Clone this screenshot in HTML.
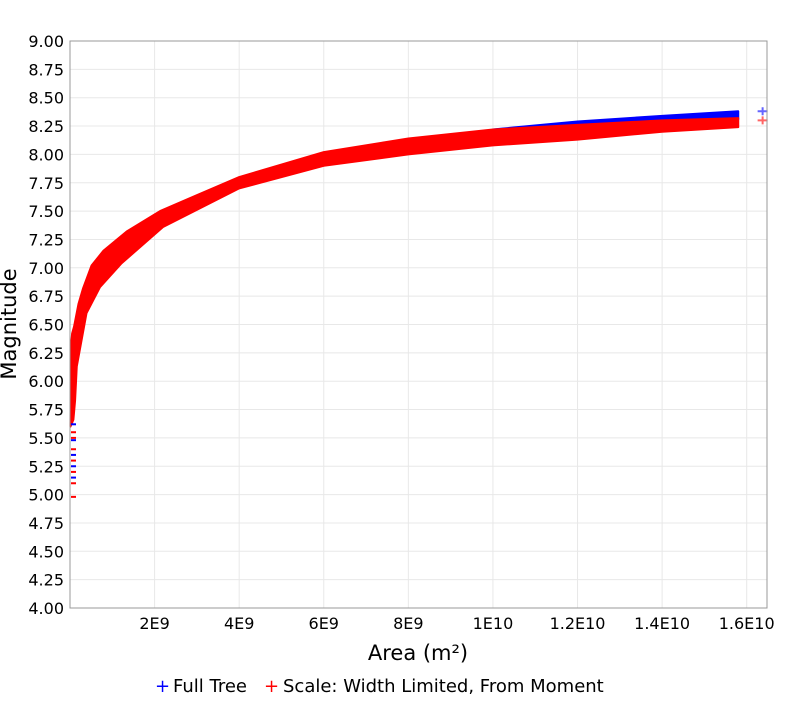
<!DOCTYPE html>
<html><head><meta charset="utf-8"><style>
body{margin:0;background:#fff;font-family:"Liberation Sans","DejaVu Sans",sans-serif;}
svg text{font-family:"DejaVu Sans","Liberation Sans",sans-serif;}
</style></head><body>
<svg id="chart" width="800" height="700">
<g id="grid"></g>
<g id="series"></g>
<rect x="70" y="41" width="697" height="567" fill="none" stroke="#999"/>
<g id="axes"></g>
<text x="418" y="660" font-size="21" text-anchor="middle">Area (m²)</text>
<text transform="translate(16,324) rotate(-90)" font-size="21" text-anchor="middle">Magnitude</text>
<g>
<text x="155" y="692" font-size="18" fill="#00f">+</text>
<text x="173" y="692" font-size="18">Full Tree</text>
<text x="264" y="692" font-size="18" fill="#f00">+</text>
<text x="283" y="692" font-size="18">Scale: Width Limited, From Moment</text>
</g>
</svg>
<script>
const xTicks=[2e9,4e9,6e9,8e9,1e10,1.2e10,1.4e10,1.6e10];
const xTickLabels=["2E9","4E9","6E9","8E9","1E10","1.2E10","1.4E10","1.6E10"];
const yTicks=[4,4.25,4.5,4.75,5,5.25,5.5,5.75,6,6.25,6.5,6.75,7,7.25,7.5,7.75,8,8.25,8.5,8.75,9];
const redUpArea=[0.02e9,0.05e9,0.095e9,0.2e9,0.31e9,0.51e9,0.79e9,1.34e9,2.13e9,3e9,4e9,6e9,8e9,1e10,1.2e10,1.4e10,1.58e10];
const redUpper=[6.3,6.42,6.48,6.68,6.82,7.02,7.15,7.32,7.5,7.64,7.8,8.02,8.14,8.22,8.26,8.3,8.32];
const redLoArea=[0.01e9,0.08e9,0.12e9,0.16e9,0.39e9,0.71e9,1.22e9,2.2e9,4e9,6e9,8e9,1e10,1.2e10,1.4e10,1.58e10];
const redLower=[5.6,5.66,5.83,6.13,6.6,6.83,7.04,7.36,7.7,7.9,8.0,8.08,8.13,8.2,8.24];
const blueArea=[1e10,1.2e10,1.4e10,1.58e10];
const blueUpper=[8.22,8.29,8.34,8.38];
const blueLower=[8.18,8.24,8.28,8.31];
const outArea=[1.64e10,1.64e10];
const outMag=[8.38,8.30];
const outColor=["#00f","#f00"];
const tailMag=[5.55,5.48,5.4,5.35,5.2,5.15,5.1,4.98,5.62,5.5,5.3,5.25];
const tailColor=["#f00","#00f","#f00","#00f","#f00","#00f","#f00","#f00","#00f","#f00","#f00","#00f"];
const X0=70,X1=767,XMAX=1.648e10,Y0=608,Y1=41;
const sx=v=>X0+v/XMAX*(X1-X0), sy=v=>Y0-(v-4)/5*(Y0-Y1);
const NS="http://www.w3.org/2000/svg";
function mk(t,a,p){const e=document.createElementNS(NS,t);for(const k in a)e.setAttribute(k,a[k]);p.appendChild(e);return e;}
const grid=document.getElementById('grid'),axes=document.getElementById('axes'),ser=document.getElementById('series');
yTicks.forEach(t=>{const y=sy(t);
const l=mk('line',{x1:X0,x2:X1,y1:y,y2:y,stroke:'#e8e8e8'},grid);


const tx=mk('text',{x:64,y:y+6,'font-size':16,'text-anchor':'end'},axes);tx.textContent=t.toFixed(2);

});
xTicks.forEach((t,i)=>{const x=sx(t);
const l=mk('line',{x1:x,x2:x,y1:Y1,y2:Y0,stroke:'#e8e8e8'},grid);


const tx=mk('text',{x:x,y:629,'font-size':16,'text-anchor':'middle'},axes);tx.textContent=xTickLabels[i];

});
function band(upA,up,loA,lo,col,name){
let pts=upA.map((a,i)=>sx(a)+','+sy(up[i]));
for(let i=loA.length-1;i>=0;i--)pts.push(sx(loA[i])+','+sy(lo[i]));
const p=mk('polygon',{points:pts.join(' '),fill:col,stroke:col,'stroke-width':2,'stroke-linejoin':'round'},ser);

}
band(blueArea,blueUpper,blueArea,blueLower,'#00f','full-tree-band');
band(redUpArea,redUpper,redLoArea,redLower,'#f00','scale-band');
tailMag.forEach((m,i)=>{const y=sy(m);
const l=mk('line',{x1:X0+1,x2:X0+6,y1:y,y2:y,stroke:tailColor[i],'stroke-width':2},ser);

});
outArea.forEach((a,i)=>{const x=sx(a),y=sy(outMag[i]);
const p=mk('path',{d:`M${x-6},${y}h10M${x-1},${y-4}v8`,stroke:outColor[i],'stroke-width':2,opacity:0.6},ser);

});
</script>
</body></html>
